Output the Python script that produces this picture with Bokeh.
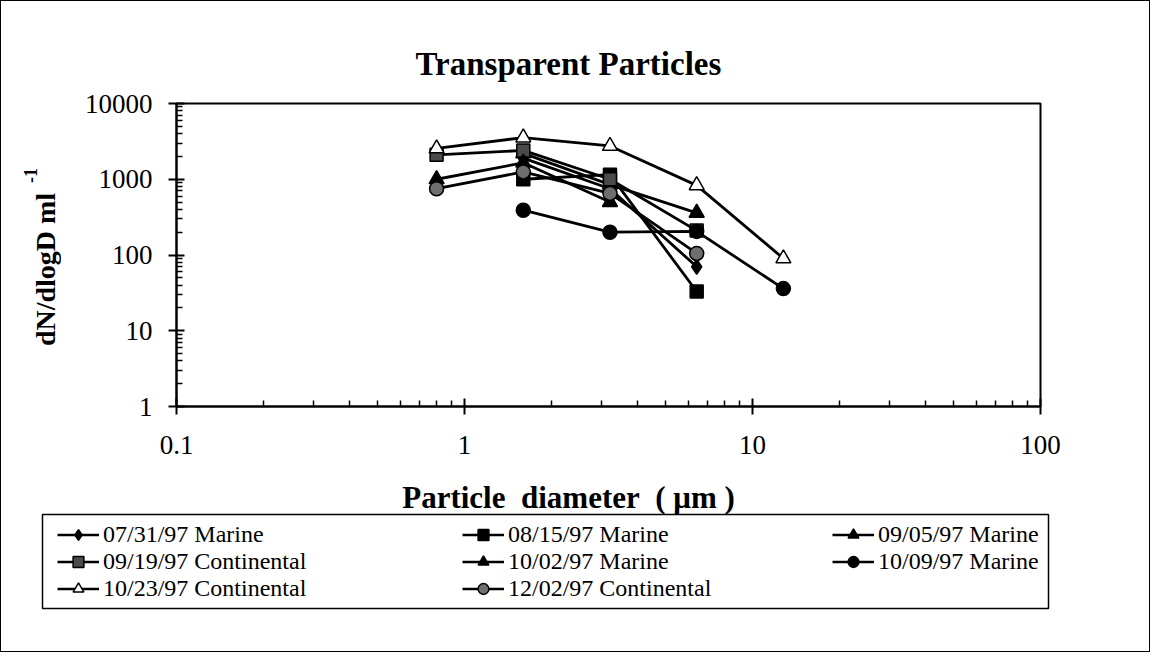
import math
from bokeh.plotting import figure
from bokeh.layouts import column, row
from bokeh.models import (FixedTicker, CustomJSTickFormatter, Label, Legend,
                          LegendItem, Range1d, BoxAnnotation)
from bokeh.embed import file_html
from bokeh.resources import INLINE

# ---------------- data ----------------
title_text = "Transparent Particles"
x_label = "Particle\u00a0\u00a0diameter\u00a0\u00a0(\u00a0\u03bcm\u00a0)"
y_label = "dN/dlogD ml"
y_label_sup = "-1"

x_major = [0.1, 1, 10, 100]
x_minor = [0.2, 0.3, 0.4, 0.5, 0.6, 0.7, 0.8, 0.9,
           2, 3, 4, 5, 6, 7, 8, 9,
           20, 30, 40, 50, 60, 70, 80, 90]
y_major = [1, 10, 100, 1000, 10000]
y_minor = [2, 3, 4, 5, 6, 7, 8, 9,
           20, 30, 40, 50, 60, 70, 80, 90,
           200, 300, 400, 500, 600, 700, 800, 900,
           2000, 3000, 4000, 5000, 6000, 7000, 8000, 9000]

names = ["07/31/97 Marine", "08/15/97 Marine", "09/05/97 Marine",
         "09/19/97 Continental", "10/02/97 Marine", "10/09/97 Marine",
         "10/23/97 Continental", "12/02/97 Continental"]

d0731_x = [1.6, 3.2, 6.4]
d0731_y = [1900, 750, 70]
d0815_x = [1.6, 3.2, 6.4]
d0815_y = [1000, 1150, 33]
d0905_x = [1.6, 3.2, 6.4]
d0905_y = [2200, 850, 360]
d0919_x = [0.8, 1.6, 3.2, 6.4]
d0919_y = [2100, 2400, 1000, 210]
d1002_x = [0.8, 1.6, 3.2]
d1002_y = [1000, 1650, 500]
d1009_x = [1.6, 3.2, 6.4, 12.8]
d1009_y = [390, 200, 205, 36]
d1023_x = [0.8, 1.6, 3.2, 6.4, 12.8]
d1023_y = [2550, 3550, 2750, 830, 90]
d1202_x = [0.8, 1.6, 3.2, 6.4]
d1202_y = [750, 1250, 650, 105]

xs = [d0731_x, d0815_x, d0905_x, d0919_x, d1002_x, d1009_x, d1023_x, d1202_x]
ys = [d0731_y, d0815_y, d0905_y, d0919_y, d1002_y, d1009_y, d1023_y, d1202_y]
markers = ["diamond", "square", "triangle", "square", "triangle", "circle", "triangle", "circle"]
fills = ["black", "black", "black", "#4a4a4a", "black", "black", "white", "#6e6e6e"]
sizes = [15, 13, 15, 13, 15, 14, 15, 14]

SERIF = "Liberation Serif"
TOTAL_W = 1148
LEFT_W = 60
TOP_H = 467
BOTTOM_H = 183

# ---------------- left strip with the y-axis label ----------------
# (its frame is aligned with the main plot frame by the row layout)
lf = figure(width=LEFT_W, height=TOP_H, x_axis_location=None, y_axis_location=None,
            toolbar_location=None, output_backend="svg", min_border=0,
            x_range=Range1d(0, 1), y_range=Range1d(0, 1))
lf.outline_line_color = None
lf.grid.visible = False
lf.add_layout(Label(x=44, y=137, x_units="screen", y_units="screen", text=y_label,
                    angle=math.pi / 2, text_font=SERIF, text_font_style="bold",
                    text_font_size="28px", text_align="center", text_baseline="middle",
                    text_color="black"))
lf.add_layout(Label(x=29, y=231, x_units="screen", y_units="screen", text=y_label_sup,
                    angle=math.pi / 2, text_font=SERIF, text_font_style="bold",
                    text_font_size="18px", text_align="center", text_baseline="middle",
                    text_color="black"))

# ---------------- main plot ----------------
p = figure(width=TOTAL_W - LEFT_W, height=TOP_H, x_axis_type="log", y_axis_type="log",
           x_range=Range1d(0.1, 100), y_range=Range1d(1, 10000),
           output_backend="svg", toolbar_location=None,
           min_border_left=115, min_border_right=109,
           min_border_top=102, min_border_bottom=62)
p.xgrid.visible = False
p.ygrid.visible = False
p.outline_line_color = "black"
p.outline_line_width = 2
p.outline_line_alpha = 1

p.title.text = title_text
p.title.align = "left"
p.title.offset = 239
p.title.text_font = SERIF
p.title.text_font_style = "bold"
p.title.text_font_size = "33px"
p.title.text_color = "black"
p.title.standoff = 43

fmt = CustomJSTickFormatter(code="return String(parseFloat(tick.toPrecision(6)));")
for ax, major, minor in ((p.xaxis[0], x_major, x_minor), (p.yaxis[0], y_major, y_minor)):
    ax.ticker = FixedTicker(ticks=major, minor_ticks=minor)
    ax.formatter = fmt
    ax.axis_line_width = 2
    ax.axis_line_color = "black"
    ax.major_tick_line_width = 2
    ax.major_tick_line_color = "black"
    ax.minor_tick_line_width = 1.5
    ax.minor_tick_line_color = "black"
    ax.major_tick_in = 8
    ax.major_tick_out = 8
    ax.minor_tick_in = 6
    ax.minor_tick_out = 0
    ax.major_label_text_font = SERIF
    ax.major_label_text_font_size = "27px"
    ax.major_label_text_color = "black"

p.xaxis.major_label_standoff = 21
p.yaxis.major_label_standoff = 16

for i in range(len(names)):
    p.line(xs[i], ys[i], line_color="black", line_width=2.8)
    p.scatter(xs[i], ys[i], marker=markers[i], size=sizes[i],
              fill_color=fills[i], line_color="black", line_width=1.5)

# ---------------- bottom strip: x label + legend ----------------
bf = figure(width=TOTAL_W, height=BOTTOM_H, x_axis_location=None, y_axis_location=None,
            toolbar_location=None, output_backend="svg", min_border=0,
            x_range=Range1d(0, 1), y_range=Range1d(0, 1))
bf.outline_line_color = None
bf.grid.visible = False
bf.add_layout(Label(x=567, y=154, x_units="screen", y_units="screen", text=x_label,
                    text_font=SERIF, text_font_style="bold", text_font_size="31px",
                    text_align="center", text_baseline="middle", text_color="black"))

bf.add_layout(BoxAnnotation(left=41, right=1047, top=137, bottom=43,
                            left_units="screen", right_units="screen",
                            top_units="screen", bottom_units="screen",
                            fill_alpha=0, line_color="black", line_width=1.5,
                            line_alpha=1))

# legend-only renderers: same series, but outside this strip's view
items = []
for i in range(len(names)):
    ln = bf.line(xs[i], ys[i], line_color="black", line_width=2.5)
    sc = bf.scatter(xs[i], ys[i], marker=markers[i], size=sizes[i],
                    fill_color=fills[i], line_color="black", line_width=1.5)
    items.append(LegendItem(label=names[i], renderers=[ln, sc]))

col_x = [56, 461, 831]
row_y = [103, 76, 49]
grid = [[0, 3, 6], [1, 4, 7], [2, 5]]
for c, col in enumerate(grid):
    for r, idx in enumerate(col):
        lg = Legend(items=[items[idx]], location=(col_x[c], row_y[r]),
                    orientation="vertical", glyph_width=42, glyph_height=27,
                    label_height=27, spacing=0, label_standoff=4, padding=0, margin=0,
                    label_text_font=SERIF, label_text_font_size="24px",
                    label_text_color="black", border_line_alpha=0,
                    background_fill_alpha=0)
        bf.add_layout(lg, "center")

layout = column(row(lf, p), bf)
layout.styles = {"border": "1px solid black"}

open("out.html", "w").write(file_html(layout, INLINE))
